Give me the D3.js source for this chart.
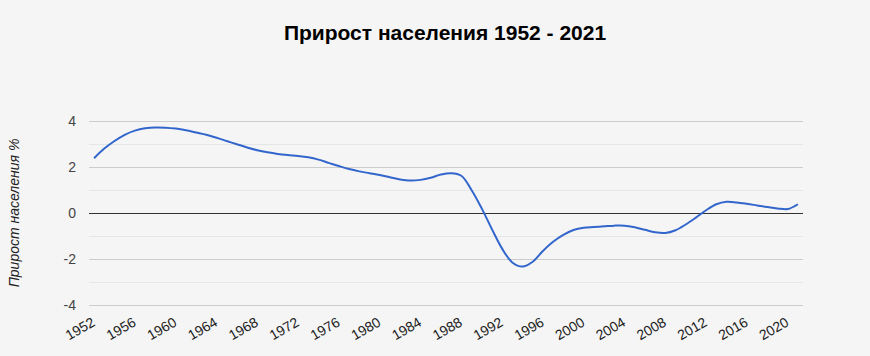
<!DOCTYPE html>
<html><head><meta charset="utf-8">
<script src="https://cdn.jsdelivr.net/npm/d3@7"></script>
<style>body{margin:0;background:#f5f5f5;}svg{display:block;}</style>
</head><body>
<script>
const years = d3.range(1952, 2022);
const growth = [2.38,2.80,3.13,3.40,3.58,3.68,3.72,3.71,3.67,3.60,
 3.50,3.40,3.27,3.13,2.99,2.85,2.73,2.64,2.57,2.52,
 2.48,2.42,2.32,2.18,2.04,1.91,1.81,1.73,1.65,1.55,
 1.46,1.41,1.44,1.53,1.67,1.73,1.62,1.00,0.20,-0.70,
 -1.55,-2.15,-2.33,-2.12,-1.65,-1.25,-0.95,-0.74,-0.64,-0.61,
 -0.58,-0.55,-0.55,-0.62,-0.73,-0.84,-0.87,-0.75,-0.50,-0.20,
 0.12,0.38,0.49,0.46,0.40,0.33,0.26,0.20,0.17,0.38];
const xTickLabels = d3.range(1952, 2022, 4);
const yTicks = [-4,-2,0,2,4];
const yMinor = [-3,-1,1,3];
const title = "Прирост населения 1952 - 2021";
const yTitle = "Прирост населения %";

const W=870,H=356, L=89, R=803, T=121, B=305;
const FONT = "Liberation Sans, Arial, sans-serif";
const svg = d3.select("body").append("svg").attr("width",W).attr("height",H);
svg.append("rect").attr("width",W).attr("height",H).attr("fill","#f5f5f5");

const x = d3.scaleBand().domain(years).range([L,R]);
const xc = d => x(d)+x.bandwidth()/2;
const y = d3.scaleLinear().domain([-4,4]).range([B,T]);
const yp = d => Math.round(y(d))+0.5;

svg.append("g").selectAll("line").data(yMinor).join("line")
 .attr("x1",L).attr("x2",R).attr("y1",yp).attr("y2",yp)
 .attr("stroke","#e6e6e6").attr("stroke-width",1);
svg.append("g").selectAll("line").data(yTicks.filter(d=>d!==0)).join("line")
 .attr("x1",L).attr("x2",R).attr("y1",yp).attr("y2",yp)
 .attr("stroke","#cccccc").attr("stroke-width",1);

svg.append("g").selectAll("text").data(yTicks).join("text")
 .attr("x",76).attr("y",d=>y(d)).attr("dy","0.36em").attr("text-anchor","end")
 .attr("font-family",FONT).attr("font-size",14).attr("fill","#444")
 .text(d=>d);

svg.append("line").attr("x1",L).attr("x2",R).attr("y1",yp(0)).attr("y2",yp(0))
 .attr("stroke","#333").attr("stroke-width",1);

const line = d3.line().x((d,i)=>xc(years[i])).y(d=>y(d)).curve(d3.curveCatmullRom.alpha(0.5));
svg.append("path").datum(growth).attr("d",line).attr("fill","none")
 .attr("stroke","#3366cc").attr("stroke-width",2);

svg.append("g").selectAll("text").data(xTickLabels).join("text")
 .attr("transform",d=>`translate(${xc(d)+2},${B+20}) rotate(-30)`)
 .attr("text-anchor","end")
 .attr("font-family",FONT).attr("font-size",14).attr("fill","#222")
 .text(d=>d);

svg.append("text").attr("transform",`translate(19,${y(0)}) rotate(-90)`)
 .attr("text-anchor","middle").attr("font-style","italic")
 .attr("font-family",FONT).attr("font-size",14).attr("fill","#222")
 .text(yTitle);

svg.append("text").attr("x",445).attr("y",40).attr("text-anchor","middle")
 .attr("font-weight","bold").attr("font-family",FONT)
 .attr("font-size",21).attr("fill","#000").text(title);
</script>
</body></html>
